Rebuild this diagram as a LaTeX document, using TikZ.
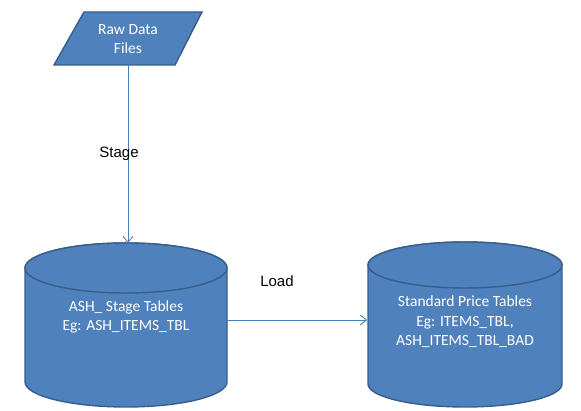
\documentclass[tikz,border=0pt]{standalone}
\usepackage{fontspec}
\setmainfont{Carlito}
\newfontfamily\arialf{Liberation Sans}
\usetikzlibrary{arrows.meta}
\definecolor{fillblue}{HTML}{4F81BD}
\definecolor{edgeblue}{HTML}{385D8A}
\definecolor{linkblue}{HTML}{4A7EBB}
\begin{document}
\begin{tikzpicture}[x=1pt,y=1pt,
  shapefill/.style={fill=fillblue,draw=edgeblue,line width=1.4pt},
  boxtext/.style={text=white,font=\fontsize{15.5}{19.5}\selectfont,align=center,inner sep=0pt},
  link/.style={draw=linkblue,line width=0.9pt,-{Straight Barb[length=6pt,width=10pt]}},
  lbl/.style={font=\arialf\fontsize{15}{18}\selectfont,inner sep=0pt}]
\useasboundingbox (0,0) rectangle (581,411);
% Raw data parallelogram
\draw[shapefill,line join=miter] (84,399) -- (202,399) -- (175,346) -- (54,346) -- cycle;
\node[boxtext] (raw) at (128,372) {Raw Data\\Files};
\coordinate (rawb) at (128,346);
% Cylinder 1
\draw[shapefill] (25,143) -- (25,29) arc[start angle=180,end angle=360,x radius=101,y radius=25] -- (227,143) arc[start angle=0,end angle=180,x radius=101,y radius=25] -- cycle;
\draw[shapefill] (126,143) ellipse[x radius=101,y radius=25];
\node[boxtext] (stage) at (126,94) {ASH\_ Stage Tables\\Eg: ASH\_ITEMS\_TBL};
\coordinate (c1top) at (128,168);
\coordinate (c1right) at (227,91);
% Cylinder 2
\draw[shapefill] (368,146) -- (368,27) arc[start angle=180,end angle=360,x radius=97,y radius=23] -- (562,146) arc[start angle=0,end angle=180,x radius=97,y radius=23] -- cycle;
\draw[shapefill] (465,146) ellipse[x radius=97,y radius=23];
\node[boxtext] (price) at (465,89) {Standard Price Tables\\Eg: ITEMS\_TBL,\\ASH\_ITEMS\_TBL\_BAD};
\coordinate (c2left) at (367,91);
% Connectors
\draw[link] (rawb) -- (c1top);
\draw[link] (c1right) -- (c2left);
\node[lbl] (stagelbl) at (119,257) {Stage};
\node[lbl] (loadlbl) at (277,130) {Load};
\end{tikzpicture}
\end{document}
